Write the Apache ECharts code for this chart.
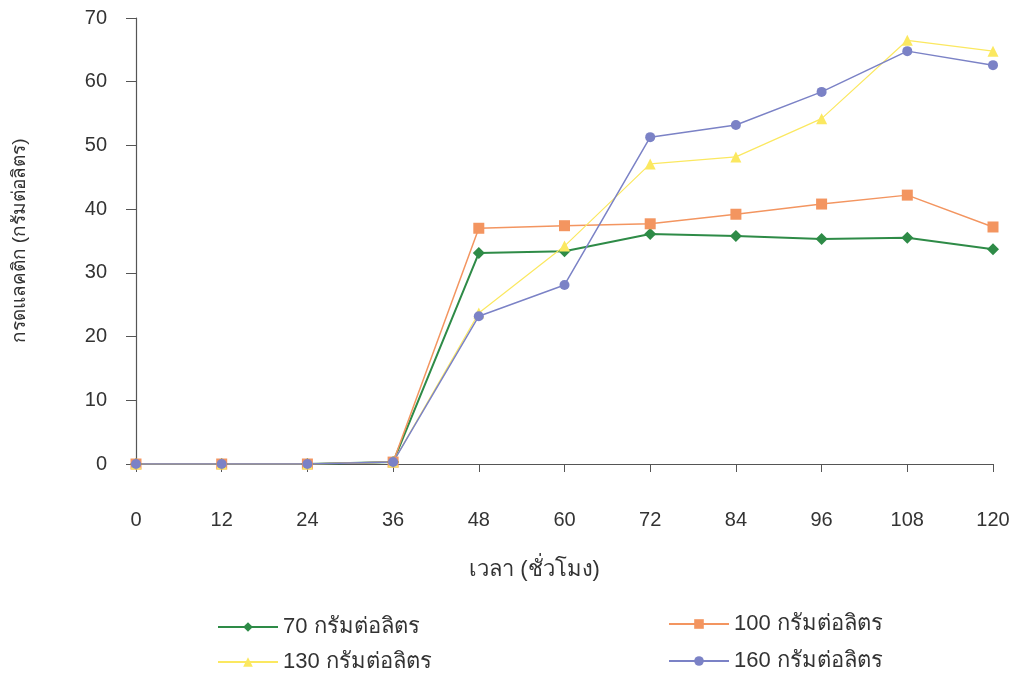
<!DOCTYPE html>
<html><head><meta charset="utf-8">
<script src="https://cdn.jsdelivr.net/npm/echarts@6/dist/echarts.min.js"></script>
<style>html,body{margin:0;padding:0;background:#fff}#c{width:1024px;height:674px}</style>
</head><body><div id="c"></div>
<script>
const hours = ['0','12','24','36','48','60','72','84','96','108','120'];
const s70  = [0, 0, 0, 0.3, 33.1, 33.4, 36.1, 35.8, 35.3, 35.5, 33.7];
const s100 = [0, 0, 0, 0.3, 37.0, 37.4, 37.7, 39.2, 40.8, 42.2, 37.2];
const s130 = [0, 0, 0, 0.3, 23.7, 34.2, 47.1, 48.2, 54.2, 66.5, 64.8];
const s160 = [0, 0, 0, 0.3, 23.2, 28.1, 51.3, 53.2, 58.4, 64.8, 62.6];
const names = ['70 กรัมต่อลิตร','100 กรัมต่อลิตร','130 กรัมต่อลิตร','160 กรัมต่อลิตร'];
const yTitle = 'กรดแลคติก (กรัมต่อลิตร)';
const xTitle = 'เวลา (ชั่วโมง)';

const font = 'Liberation Sans, Arial, sans-serif';
const chart = echarts.init(document.getElementById('c'));
const legendBase = {itemWidth: 60, itemHeight: 12, itemGap: 10, textStyle: {fontSize: 22, color: '#333', fontFamily: font}};
function mk(name, data, color, symbol, size, lw) {
  return {name, type: 'line', data, symbol, symbolSize: size, color,
    lineStyle: {width: lw || 1.5, color}, itemStyle: {color}};
}
chart.setOption({
  animation: false,
  backgroundColor: '#fff',
  grid: {left: 136, right: 31, top: 18, bottom: 210, containLabel: false, outerBoundsMode: 'none'},
  legend: [
    Object.assign({data: [names[0]], left: 212, top: 611}, legendBase),
    Object.assign({data: [names[1]], left: 663, top: 608}, legendBase),
    Object.assign({data: [names[2]], left: 212, top: 646}, legendBase),
    Object.assign({data: [names[3]], left: 663, top: 645}, legendBase)
  ],
  xAxis: {
    type: 'category', data: hours, boundaryGap: false,
    axisLine: {lineStyle: {color: '#555', width: 1.2}},
    axisTick: {show: true, length: 8, alignWithLabel: true, lineStyle: {color: '#555'}},
    axisLabel: {margin: 46, fontSize: 20, color: '#333', fontFamily: font},
    name: xTitle, nameLocation: 'middle', nameGap: 95,
    nameTextStyle: {fontSize: 22, color: '#333', fontFamily: font, padding: [0, 60, 0, 0]}
  },
  yAxis: {
    type: 'value', min: 0, max: 70, interval: 10,
    axisLine: {show: true, lineStyle: {color: '#555', width: 1.2}},
    axisTick: {show: true, length: 10, lineStyle: {color: '#555'}},
    splitLine: {show: false},
    axisLabel: {margin: 29, fontSize: 20, color: '#333', fontFamily: font},
    name: yTitle, nameLocation: 'middle', nameGap: 107, nameRotate: 90,
    nameTextStyle: {fontSize: 19, color: '#333', fontFamily: font}
  },
  series: [
    mk(names[0], s70, '#2e8b47', 'diamond', 12, 2),
    mk(names[1], s100, '#f39560', 'rect', 11, 1.5),
    mk(names[2], s130, '#fbe860', 'triangle', 11, 1.2),
    mk(names[3], s160, '#7b82c6', 'circle', 10, 1.5)
  ]
});
</script></body></html>
